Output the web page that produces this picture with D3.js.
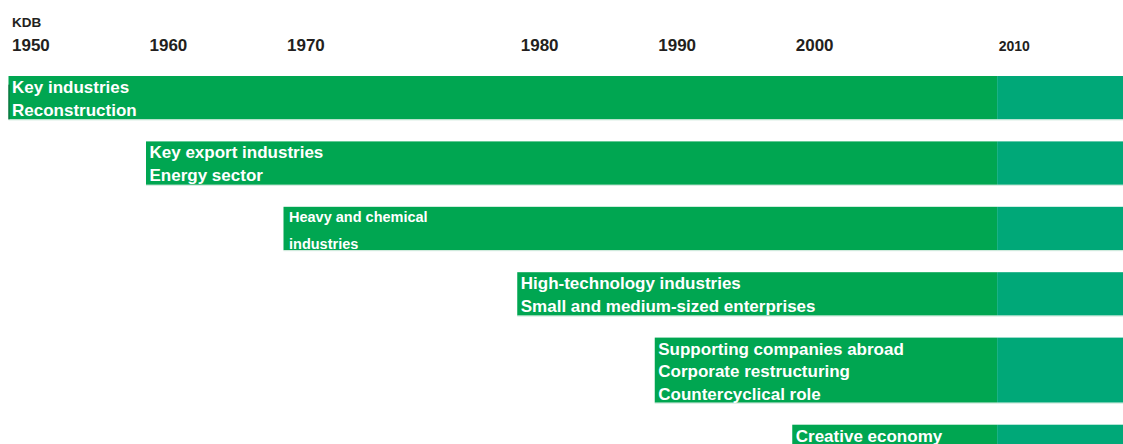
<!DOCTYPE html>
<html>
<head>
<meta charset="utf-8">
<script src="https://cdn.jsdelivr.net/npm/d3@7"></script>
<style>
  body { margin: 0; background: #fff; }
  svg { display: block; font-family: "Liberation Sans", Arial, sans-serif; font-weight: bold; }
</style>
</head>
<body>
<div id="chart"></div>
<script>
// ---- data ----
var years = [1950, 1960, 1970, 1980, 1990, 2000, 2010];
var roleStart = [1950, 1960, 1970, 1980, 1990, 2000];
var roleLines = [
    ["Key industries", "Reconstruction"],
    ["Key export industries", "Energy sector"],
    ["Heavy and chemical", "industries"],
    ["High-technology industries", "Small and medium-sized enterprises"],
    ["Supporting companies abroad", "Corporate restructuring", "Countercyclical role"],
    ["Creative economy"]
];
var shiftYear = 2010;

// ---- layout ----
var width = 1123, height = 444;
var left = 8.5, unit = 137.5;
// the decades are not drawn evenly in the original
var decadeSpan = [1, 1, 1.7, 1, 1, 1.49];
var lineH = 21.7, rowGap = 22, top0 = 76;

var range = [left];
decadeSpan.forEach(function(s, i) { range.push(range[i] + s * unit); });
var x = d3.scaleLinear().domain(years).range(range);

var svg = d3.select("#chart").append("svg")
    .attr("width", width)
    .attr("height", height);

// title
svg.append("text")
    .attr("x", 12)
    .attr("y", 27)
    .style("font-size", "13.5px")
    .attr("fill", "#231f20")
    .text("KDB");

// year axis on top
var axis = svg.append("g")
    .attr("transform", "translate(0,51)")
    .call(d3.axisTop(x).tickValues(years).tickSize(0).tickPadding(0).tickFormat(d3.format("d")));
axis.select(".domain").remove();
axis.selectAll("text")
    .attr("text-anchor", "start")
    .attr("dy", 0)
    .attr("dx", function(d) { return d === shiftYear ? 1 : 3; })
    .attr("fill", "#231f20")
    .style("font-family", "inherit")
    .style("font-size", function(d) { return d === shiftYear ? "14px" : "17px"; });

// row positions stacked by number of lines
var rows = [];
var yTop = top0;
roleStart.forEach(function(s, i) {
    var h = roleLines[i].length * lineH;
    rows.push({ start: s, lines: roleLines[i], y: yTop, h: h, small: i === 2 });
    yTop += h + rowGap;
});

var g = svg.selectAll("g.role")
    .data(rows)
    .enter().append("g")
    .attr("class", "role")
    .attr("transform", function(d) { return "translate(0," + d.y + ")"; });

g.append("rect")
    .attr("x", function(d) { return x(d.start); })
    .attr("width", function(d) { return x(shiftYear) - x(d.start); })
    .attr("height", function(d) { return d.h; })
    .attr("fill", "#00a651");

g.append("rect")
    .attr("x", x(shiftYear))
    .attr("width", width - x(shiftYear))
    .attr("height", function(d) { return d.h; })
    .attr("fill", "#00a878");

// faint lighter edge under each bar
g.append("line")
    .attr("x1", function(d) { return x(d.start); })
    .attr("x2", width)
    .attr("y1", function(d) { return d.h + 0.5; })
    .attr("y2", function(d) { return d.h + 0.5; })
    .attr("stroke", "#cfe9dc")
    .attr("stroke-width", 1);

// dark left edge on the first bar's lower half
g.filter(function(d, i) { return i === 0; })
    .append("line")
    .attr("x1", function(d) { return x(d.start) + 0.5; })
    .attr("x2", function(d) { return x(d.start) + 0.5; })
    .attr("y1", function(d) { return d.h * 0.2; })
    .attr("y2", function(d) { return d.h; })
    .attr("stroke", "#0d5e34")
    .attr("stroke-width", 1);

g.each(function(d) {
    var sel = d3.select(this);
    d.lines.forEach(function(t, j) {
        sel.append("text")
            .attr("x", x(d.start) + (d.small ? 5.5 : 3.5))
            .attr("y", d.small ? 15 + j * 27 : 17 + j * 22.5)
            .attr("fill", "#fff")
            .style("font-size", d.small ? "14.5px" : "17px")
            .text(t);
    });
});
</script>
</body>
</html>
